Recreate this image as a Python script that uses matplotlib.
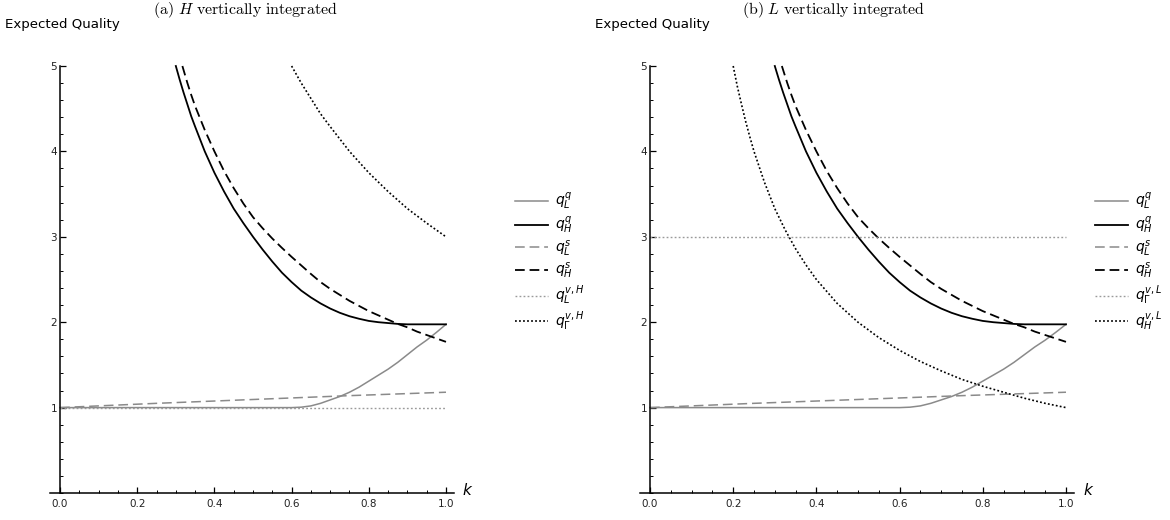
import numpy as np
import matplotlib
matplotlib.use("Agg")
import matplotlib.pyplot as plt
from matplotlib.ticker import MultipleLocator

plt.rcParams['font.family'] = 'DejaVu Sans'
plt.rcParams['lines.scale_dashes'] = False

# ---------------- data ----------------
# q_H^q : black solid
k_Hq = [0.30, 0.31, 0.32, 0.33, 0.34, 0.35, 0.375, 0.40, 0.425, 0.45, 0.475, 0.50,
        0.525, 0.55, 0.575, 0.60, 0.625, 0.65, 0.675, 0.70, 0.725, 0.75, 0.775,
        0.80, 0.825, 0.85, 0.875, 0.90, 1.00]
q_Hq = [5.00, 4.84, 4.69, 4.55, 4.41, 4.29, 4.00, 3.75, 3.53, 3.33, 3.16, 3.00,
        2.85, 2.71, 2.58, 2.47, 2.37, 2.29, 2.22, 2.16, 2.11, 2.07, 2.04,
        2.015, 2.00, 1.99, 1.98, 1.975, 1.975]

# q_H^s : black dashed
k_Hs = [0.317, 0.33, 0.34, 0.35, 0.375, 0.40, 0.425, 0.45, 0.475, 0.50, 0.525, 0.55,
        0.575, 0.60, 0.625, 0.65, 0.675, 0.70, 0.725, 0.75, 0.775, 0.80, 0.825,
        0.85, 0.875, 0.90, 0.925, 0.95, 0.975, 1.00]
q_Hs = [5.00, 4.80, 4.66, 4.53, 4.25, 4.00, 3.77, 3.57, 3.39, 3.23, 3.10, 2.98,
        2.87, 2.765, 2.665, 2.565, 2.47, 2.39, 2.32, 2.25, 2.19, 2.13, 2.08,
        2.03, 1.98, 1.94, 1.89, 1.85, 1.81, 1.77]

# q_L^q : grey solid
k_Lq = [0.00, 0.60, 0.625, 0.65, 0.675, 0.70, 0.725, 0.75, 0.775, 0.80, 0.825,
        0.85, 0.875, 0.90, 0.925, 0.95, 0.975, 1.00]
q_Lq = [1.00, 1.00, 1.005, 1.02, 1.05, 1.09, 1.13, 1.18, 1.24, 1.31, 1.38,
        1.45, 1.53, 1.62, 1.71, 1.79, 1.88, 1.975]

# q_L^s : grey dashed
k_Ls = [0.00, 0.25, 0.50, 0.75, 1.00]
q_Ls = [1.00, 1.05, 1.095, 1.14, 1.18]

# panel (a): vertical-integration benchmarks with H integrated
k_vH_L = [0.00, 1.00]
q_vH_L = [1.00, 1.00]
k_vH_H = [0.60, 0.625, 0.65, 0.675, 0.70, 0.75, 0.80, 0.85, 0.90, 0.95, 1.00]
q_vH_H = [5.00, 4.80, 4.62, 4.44, 4.29, 4.00, 3.75, 3.53, 3.33, 3.16, 3.00]

# panel (b): vertical-integration benchmarks with L integrated
k_vL_L = [0.00, 1.00]
q_vL_L = [3.00, 3.00]
k_vL_H = [0.20, 0.21, 0.22, 0.23, 0.24, 0.25, 0.275, 0.30, 0.325, 0.35, 0.375,
          0.40, 0.45, 0.50, 0.55, 0.60, 0.65, 0.70, 0.75, 0.80, 0.85, 0.90, 0.95, 1.00]
q_vL_H = [5.00, 4.76, 4.55, 4.35, 4.17, 4.00, 3.64, 3.33, 3.08, 2.86, 2.67,
          2.50, 2.22, 2.00, 1.82, 1.67, 1.54, 1.43, 1.33, 1.25, 1.18, 1.11, 1.05, 1.00]

GREY = '#8a8a8a'
LGREY = '#9a9a9a'
DASH = (7, 3.5)
DOT = (1.3, 1.6)

fig = plt.figure(figsize=(11.7, 5.2), dpi=100, facecolor='white')
ax_a = fig.add_axes([50.4 / 1170, 27 / 520, 403.3 / 1170, 428.7 / 520])
ax_b = fig.add_axes([639.6 / 1170, 27 / 520, 434.7 / 1170, 428.7 / 520])


def style_axis(ax):
    ax.set_xlim(-0.025, 1.02)
    ax.set_ylim(0, 5.02)
    for s in ['top', 'right']:
        ax.spines[s].set_visible(False)
    ax.spines['left'].set_position(('data', 0))
    ax.spines['bottom'].set_position(('data', 0))
    ax.spines['left'].set_linewidth(1.1)
    ax.spines['bottom'].set_linewidth(1.1)
    ax.spines['left'].set_bounds(0, 5.0)
    ax.set_xticks([0.0, 0.2, 0.4, 0.6, 0.8, 1.0])
    ax.set_xticklabels(['0.0', '0.2', '0.4', '0.6', '0.8', '1.0'])
    ax.set_yticks([1, 2, 3, 4, 5])
    ax.xaxis.set_minor_locator(MultipleLocator(0.05))
    ax.yaxis.set_minor_locator(MultipleLocator(0.2))
    ax.tick_params(which='both', direction='in', colors='black', labelcolor='#222222',
                   labelsize=7.5)
    ax.tick_params(which='major', length=4, width=0.9)
    ax.tick_params(which='minor', length=2.3, width=0.7)
    ax.tick_params(axis='x', pad=4)
    ax.tick_params(axis='y', pad=2)
    ax.annotate('$k$', xy=(1, 0), xycoords='axes fraction', xytext=(10, 2),
                textcoords='offset points', fontsize=11, va='center', ha='center')


def common_curves(ax):
    ax.plot(k_Lq, q_Lq, color=GREY, lw=1.1, label='$q_L^q$')
    ax.plot(k_Hq, q_Hq, color='black', lw=1.3, label='$q_H^q$')
    ax.plot(k_Ls, q_Ls, color=GREY, lw=1.1, dashes=DASH, label='$q_L^s$')
    ax.plot(k_Hs, q_Hs, color='black', lw=1.3, dashes=DASH, label='$q_H^s$')


# ---- (a) H vertically integrated ----
style_axis(ax_a)
common_curves(ax_a)
ax_a.plot(k_vH_L, q_vH_L, color=LGREY, lw=1.0, dashes=DOT, label=r'$q_L^{v,H}$')
ax_a.plot(k_vH_H, q_vH_H, color='black', lw=1.2, dashes=DOT, label=r'$q_\Gamma^{v,H}$')

# ---- (b) L vertically integrated ----
style_axis(ax_b)
common_curves(ax_b)
ax_b.plot(k_vL_L, q_vL_L, color=LGREY, lw=1.0, dashes=DOT, label=r'$q_\Gamma^{v,L}$')
ax_b.plot(k_vL_H, q_vL_H, color='black', lw=1.2, dashes=DOT, label=r'$q_H^{v,L}$')

for ax, x0 in [(ax_a, 515), (ax_b, 1095)]:
    h, l = ax.get_legend_handles_labels()
    fig.legend(h, l, loc='center left', bbox_to_anchor=(x0 / 1170, 1 - 262 / 520),
               frameon=False, fontsize=10, borderpad=0, borderaxespad=0,
               handlelength=2.4, handletextpad=0.5, labelspacing=0.2)

for x0, xt, title in [(5, 245, r'$\mathrm{(a)}\ H\ \mathrm{vertically\ integrated}$'),
                      (595, 834, r'$\mathrm{(b)}\ L\ \mathrm{vertically\ integrated}$')]:
    fig.text(x0 / 1170, 1 - 24 / 520, 'Expected Quality', fontsize=9.6,
             ha='left', va='center')
    fig.text(xt / 1170, 1 - 10 / 520, title, fontsize=11.5, ha='center', va='center',
             math_fontfamily='cm')

fig.savefig('out.png', dpi=100, facecolor='white')
